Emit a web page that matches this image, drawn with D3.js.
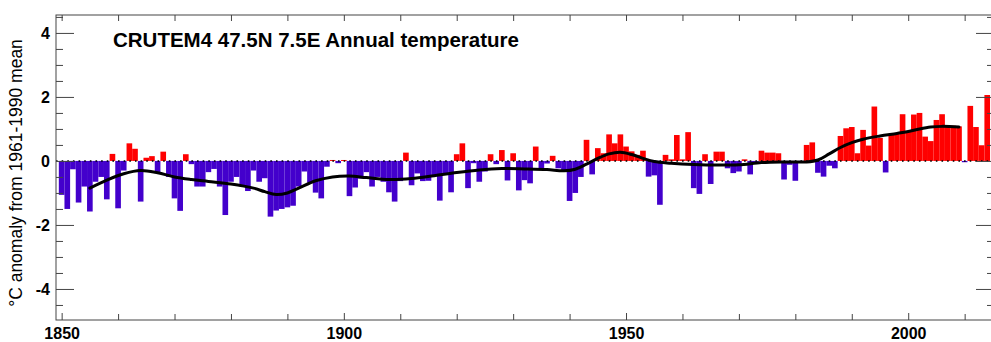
<!doctype html>
<html>
  <head>
    <meta charset="utf-8">
    <title>CRUTEM4 47.5N 7.5E Annual temperature</title>
    <script src="https://cdnjs.cloudflare.com/ajax/libs/d3/7.8.5/d3.min.js"></script>
    <style>
      body { margin: 0; background: #fff; }
      svg { display: block; font-family: "Liberation Sans", Arial, sans-serif; }
    </style>
  </head>
  <body>
    <div id="chart"></div>
    <script>
      // annual anomalies, 1850..2014
      const firstYear = 1850;
      const anomalies = [
        -1.06, -1.50, -0.26, -1.30, -0.80, -1.58, -0.65, -0.50, -1.20, 0.22,
        -1.48, -0.30, 0.55, 0.38, -1.27, 0.10, 0.15, -0.35, 0.29, -0.50,
        -1.17, -1.56, 0.21, -0.10, -0.80, -0.80, -0.35, -0.25, -0.80, -1.69,
        -0.65, -0.50, -0.80, -0.94, -0.30, -0.65, -0.54, -1.74, -1.55, -1.50,
        -1.45, -1.40, -0.80, -0.33, -0.68, -0.99, -1.17, -0.18, 0.03, -0.07,
        0.03, -1.10, -0.83, -0.55, -0.35, -0.80, -0.50, -0.65, -0.98, -1.27,
        -0.63, 0.26, -0.76, -0.39, -0.63, -0.62, -0.44, -1.24, -0.40, -0.98,
        0.21, 0.55, -0.85, -0.07, -0.65, -0.33, 0.21, -0.10, 0.34, -0.61,
        0.24, -0.92, -0.60, -0.70, 0.45, -0.23, -0.08, 0.16, -0.23, -0.33,
        -1.25, -1.00, -0.50, 0.66, -0.42, 0.40, 0.24, 0.83, 0.55, 0.83,
        0.45, 0.30, 0.19, 0.32, -0.49, -0.45, -1.37, 0.19, 0.05, 0.81,
        0.05, 0.90, -0.85, -1.03, 0.21, -0.72, 0.29, 0.29, -0.23, -0.38,
        -0.33, 0.05, -0.42, -0.08, 0.32, 0.26, 0.26, 0.24, -0.58, -0.12,
        -0.62, -0.04, 0.50, 0.58, -0.37, -0.49, -0.15, -0.23, 0.78, 1.02,
        1.06, 0.24, 0.97, 0.48, 1.70, 0.72, -0.36, 0.85, 0.85, 1.46,
        0.91, 1.45, 1.50, 0.76, 0.62, 1.28, 1.46, 1.10, 1.10, 1.08,
        -0.04, 1.72, 1.06, 0.49, 2.06
      ];
      const years = anomalies.map((d, i) => firstYear + i);

      // smoothed curve
      const smoothYears = [1855, 1858, 1861, 1864, 1867, 1870, 1873, 1876, 1880, 1884,
        1886, 1888, 1890, 1892, 1895, 1898, 1901, 1904, 1908, 1912,
        1916, 1920, 1924, 1928, 1932, 1936, 1939, 1941, 1943, 1945,
        1947, 1949, 1951, 1953, 1955, 1958, 1962, 1966, 1970, 1974,
        1978, 1982, 1984, 1986, 1988, 1990, 1992, 1995, 1998, 2000,
        2002, 2004, 2006, 2009];
      const smoothValues = [-0.85, -0.60, -0.40, -0.30, -0.37, -0.50, -0.58, -0.64, -0.72, -0.85,
        -0.96, -1.05, -1.00, -0.85, -0.62, -0.50, -0.47, -0.52, -0.58, -0.55,
        -0.46, -0.36, -0.28, -0.24, -0.25, -0.27, -0.31, -0.26, -0.10, 0.08,
        0.22, 0.27, 0.20, 0.08, -0.02, -0.07, -0.11, -0.13, -0.12, -0.05,
        -0.03, -0.03, 0.03, 0.22, 0.42, 0.57, 0.68, 0.78, 0.86, 0.92,
        1.00, 1.06, 1.08, 1.06];

      const yMajor = [-4, -2, 0, 2, 4];
      const yMinor = [-4.5, -3.5, -3, -2.5, -1.5, -1, -0.5, 0.5, 1, 1.5, 2.5, 3, 3.5, 4.5];
      const xMajor = [1850, 1900, 1950, 2000];
      const xMinor = [1860, 1870, 1880, 1890, 1910, 1920, 1930, 1940, 1960, 1970, 1980, 1990, 2010];

      const titleText = 'CRUTEM4 47.5N 7.5E Annual temperature';
      const yLabel = '°C anomaly from 1961-1990 mean';

      const width = 991, height = 342;
      const plotLeft = 56, plotRight = 994, plotTop = 15, plotBottom = 320;

      const x = d3.scaleLinear().domain([1849, 2015.2]).range([plotLeft, plotRight]);
      const y = d3.scaleLinear().domain([-4.97, 4.56]).range([plotBottom, plotTop]);

      const svg = d3.select('#chart')
        .append('svg')
        .attr('width', width)
        .attr('height', height);

      svg.append('clipPath').attr('id', 'plot')
        .append('rect')
        .attr('x', plotLeft).attr('y', plotTop)
        .attr('width', plotRight - plotLeft).attr('height', plotBottom - plotTop);

      const plot = svg.append('g').attr('clip-path', 'url(#plot)');

      // bars
      plot.selectAll('rect.bar')
        .data(years)
        .join('rect')
        .attr('class', 'bar')
        .attr('x', d => x(d - 0.5))
        .attr('width', d => x(d + 0.5) - x(d - 0.5))
        .attr('y', (d, i) => y(Math.max(0, anomalies[i])))
        .attr('height', (d, i) => Math.abs(y(anomalies[i]) - y(0)))
        .style('fill', (d, i) => anomalies[i] >= 0 ? '#ff0000' : '#4300cc');

      // dotted zero line
      plot.append('line')
        .attr('x1', plotLeft).attr('x2', plotRight)
        .attr('y1', y(0)).attr('y2', y(0))
        .style('stroke', '#000')
        .style('stroke-width', 1.6)
        .style('stroke-dasharray', '1.6,4.04');

      // smoothed line
      const line = d3.line()
        .x(d => x(d[0]))
        .y(d => y(d[1]))
        .curve(d3.curveCatmullRom);

      plot.append('path')
        .datum(smoothYears.map((d, i) => [d, smoothValues[i]]))
        .attr('d', line)
        .style('fill', 'none')
        .style('stroke', '#000')
        .style('stroke-width', 3)
        .style('stroke-linecap', 'round');

      // frame
      svg.append('rect')
        .attr('x', plotLeft).attr('y', plotTop)
        .attr('width', plotRight - plotLeft).attr('height', plotBottom - plotTop)
        .style('fill', 'none')
        .style('stroke', '#444')
        .style('stroke-width', 1);

      // axes (ticks point inward)
      function drawAxis(axis, tx, ty, labels) {
        const g = svg.append('g')
          .attr('transform', `translate(${tx},${ty})`)
          .call(axis);
        g.select('.domain').remove();
        g.selectAll('line').style('stroke', '#444');
        if (!labels) {
          g.selectAll('text').remove();
          return g;
        }
        g.selectAll('text')
          .style('font-size', labels)
          .style('font-weight', 'bold')
          .style('fill', '#000')
          .style('font-family', '"Liberation Sans", Arial, sans-serif');
        return g;
      }
      const fmt = d => String(d);

      drawAxis(d3.axisLeft(y).tickValues(yMajor).tickSizeInner(-18).tickSizeOuter(0).tickPadding(6).tickFormat(fmt), plotLeft, 0, '16px');
      drawAxis(d3.axisLeft(y).tickValues(yMinor).tickSizeInner(-7).tickSizeOuter(0), plotLeft, 0, null);
      drawAxis(d3.axisRight(y).tickValues(yMajor).tickSizeInner(-18).tickSizeOuter(0), plotRight, 0, null);
      drawAxis(d3.axisRight(y).tickValues(yMinor).tickSizeInner(-7).tickSizeOuter(0), plotRight, 0, null);

      drawAxis(d3.axisBottom(x).tickValues(xMajor).tickSizeInner(-7).tickSizeOuter(0).tickPadding(8).tickFormat(fmt), 0, plotBottom, '16px');
      drawAxis(d3.axisBottom(x).tickValues(xMinor).tickSizeInner(-6).tickSizeOuter(0), 0, plotBottom, null);
      drawAxis(d3.axisTop(x).tickValues(xMajor.concat(xMinor)).tickSizeInner(-6).tickSizeOuter(0), 0, plotTop, null);

      // title
      svg.append('text')
        .attr('x', 113)
        .attr('y', 47)
        .text(titleText)
        .style('font-size', '20.5px')
        .style('font-weight', 'bold')
        .style('fill', '#000');

      // y axis label
      svg.append('text')
        .attr('transform', 'translate(22,173) rotate(-90)')
        .text(yLabel)
        .style('text-anchor', 'middle')
        .style('font-size', '17.5px')
        .style('fill', '#000');
    </script>
  </body>
</html>
